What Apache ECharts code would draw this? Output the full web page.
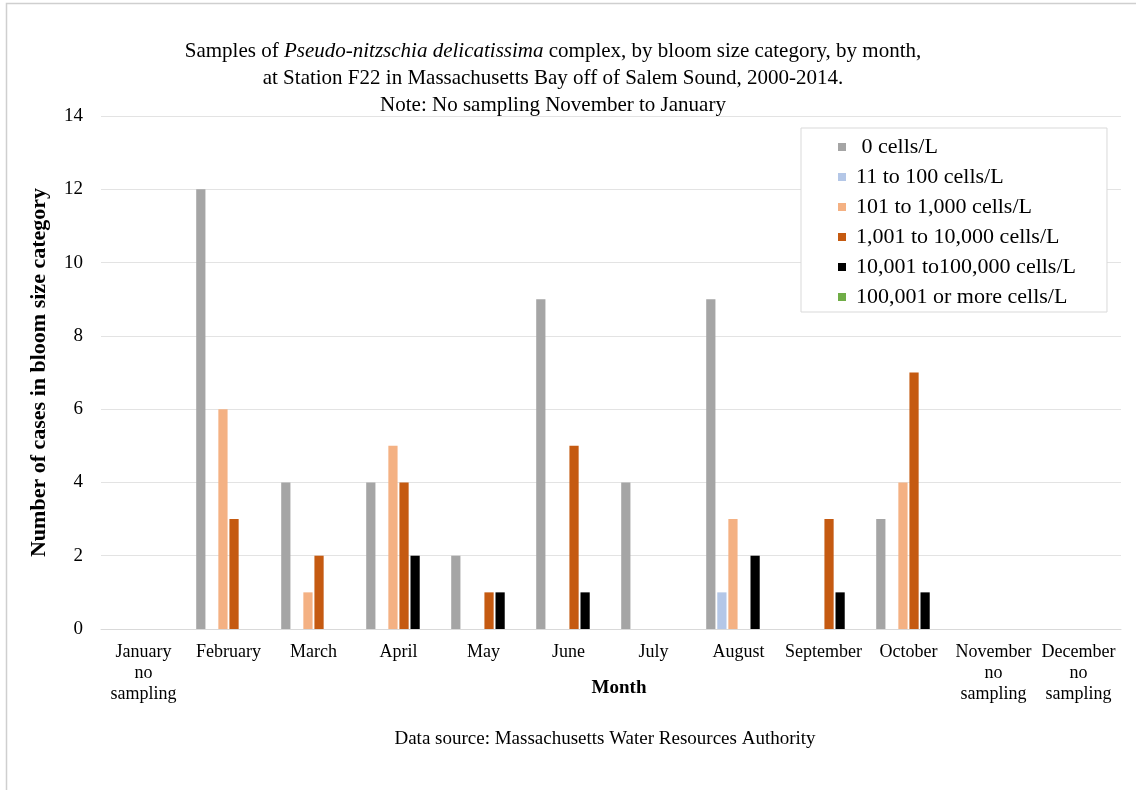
<!DOCTYPE html>
<html>
<head>
<meta charset="utf-8">
<script src="https://cdn.jsdelivr.net/npm/echarts@6/dist/echarts.min.js"></script>
<style>
  html, body { margin: 0; padding: 0; background: #fff; }
  #chart { width: 1136px; height: 790px; }
</style>
</head>
<body>
<div id="chart"></div>
<script>
const months = ['January\nno\nsampling', 'February', 'March', 'April', 'May', 'June', 'July',
  'August', 'September', 'October', 'November\nno\nsampling', 'December\nno\nsampling']

// counts per bloom size category, Jan..Dec
const zeroCells = [0, 12, 4, 4, 2, 9, 4, 9, 0, 3, 0, 0]
const cells11to100 = [0, 0, 0, 0, 0, 0, 0, 1, 0, 0, 0, 0]
const cells101to1000 = [0, 6, 1, 5, 0, 0, 0, 3, 0, 4, 0, 0]
const cells1001to10000 = [0, 3, 2, 4, 1, 5, 0, 0, 3, 7, 0, 0]
const cells10001to100000 = [0, 0, 0, 2, 1, 1, 0, 2, 1, 1, 0, 0]
const cells100001plus = [0, 0, 0, 0, 0, 0, 0, 0, 0, 0, 0, 0]

const seriesNames = [' 0 cells/L', '11 to 100 cells/L', '101 to 1,000 cells/L',
  '1,001 to 10,000 cells/L', '10,001 to100,000 cells/L', '100,001 or more cells/L']
const seriesData = [zeroCells, cells11to100, cells101to1000, cells1001to10000,
  cells10001to100000, cells100001plus]
const colors = ['#a5a5a5', '#b4c7e7', '#f4b183', '#c55a11', '#000000', '#70ad47']

const font = '"Liberation Serif", "Times New Roman", serif'

const chart = echarts.init(document.getElementById('chart'), null, { renderer: 'canvas' })

chart.setOption({
  animation: false,
  textStyle: { fontFamily: font, color: '#000' },
  color: colors,
  title: {
    left: 548,
    top: 33,
    textAlign: 'center',
    text: 'Samples of {i|Pseudo-nitzschia delicatissima} complex, by bloom size category, by month,\n' +
      'at Station F22 in Massachusetts Bay off of Salem Sound, 2000-2014.\n' +
      'Note: No sampling November to January',
    textStyle: {
      fontFamily: font, fontSize: 21, fontWeight: 'normal', color: '#000', lineHeight: 27,
      rich: { i: { fontFamily: font, fontSize: 21, fontStyle: 'italic', color: '#000', lineHeight: 27 } }
    }
  },
  legend: {
    orient: 'vertical',
    left: 801,
    top: 128,
    padding: [8, 31, 4, 37],
    itemGap: 8,
    itemWidth: 8,
    itemHeight: 8,
    icon: 'rect',
    backgroundColor: '#fff',
    borderColor: '#d9d9d9',
    borderWidth: 1,
    textStyle: { fontFamily: font, fontSize: 22, lineHeight: 20, color: '#000', padding: [0, 0, 0, 5] },
    data: seriesNames
  },
  grid: { left: 101, right: 15, top: 116, bottom: 161 },
  xAxis: {
    type: 'category',
    data: months,
    axisLine: { lineStyle: { color: '#d9d9d9' } },
    axisTick: { length: 6, lineStyle: { color: '#d9d9d9' } },
    axisLabel: { fontFamily: font, fontSize: 18, lineHeight: 21, color: '#000', margin: 13, interval: 0 }
  },
  yAxis: {
    type: 'value',
    min: 0,
    max: 14,
    interval: 2,
    axisLine: { show: false },
    axisTick: { show: false },
    splitLine: { lineStyle: { color: '#e3e3e3' } },
    axisLabel: { fontFamily: font, fontSize: 19, color: '#000', margin: 18 },
    name: 'Number of cases in bloom size category',
    nameLocation: 'middle',
    nameGap: 51,
    nameTextStyle: { fontFamily: font, fontSize: 22, fontWeight: 'bold', color: '#000' }
  },
  graphic: [
    {
      type: 'rect',
      shape: { x: 6.5, y: 3.5, width: 1200, height: 900 },
      style: { fill: 'none', stroke: '#cfcfcf', lineWidth: 1.5 },
      silent: true
    },
    {
      type: 'text',
      style: {
        x: 619, y: 688,
        text: 'Month',
        font: 'bold 19px ' + font,
        fill: '#000',
        align: 'center',
        verticalAlign: 'middle'
      }
    },
    {
      type: 'text',
      style: {
        x: 605, y: 739,
        text: 'Data source: Massachusetts Water Resources Authority',
        font: '19px ' + font,
        fill: '#000',
        align: 'center',
        verticalAlign: 'middle'
      }
    }
  ],
  series: seriesNames.map((name, i) => ({
    name,
    type: 'bar',
    data: seriesData[i],
    barGap: '20%',
    barCategoryGap: '24%',
    itemStyle: { color: colors[i] }
  }))
})
</script>
</body>
</html>
